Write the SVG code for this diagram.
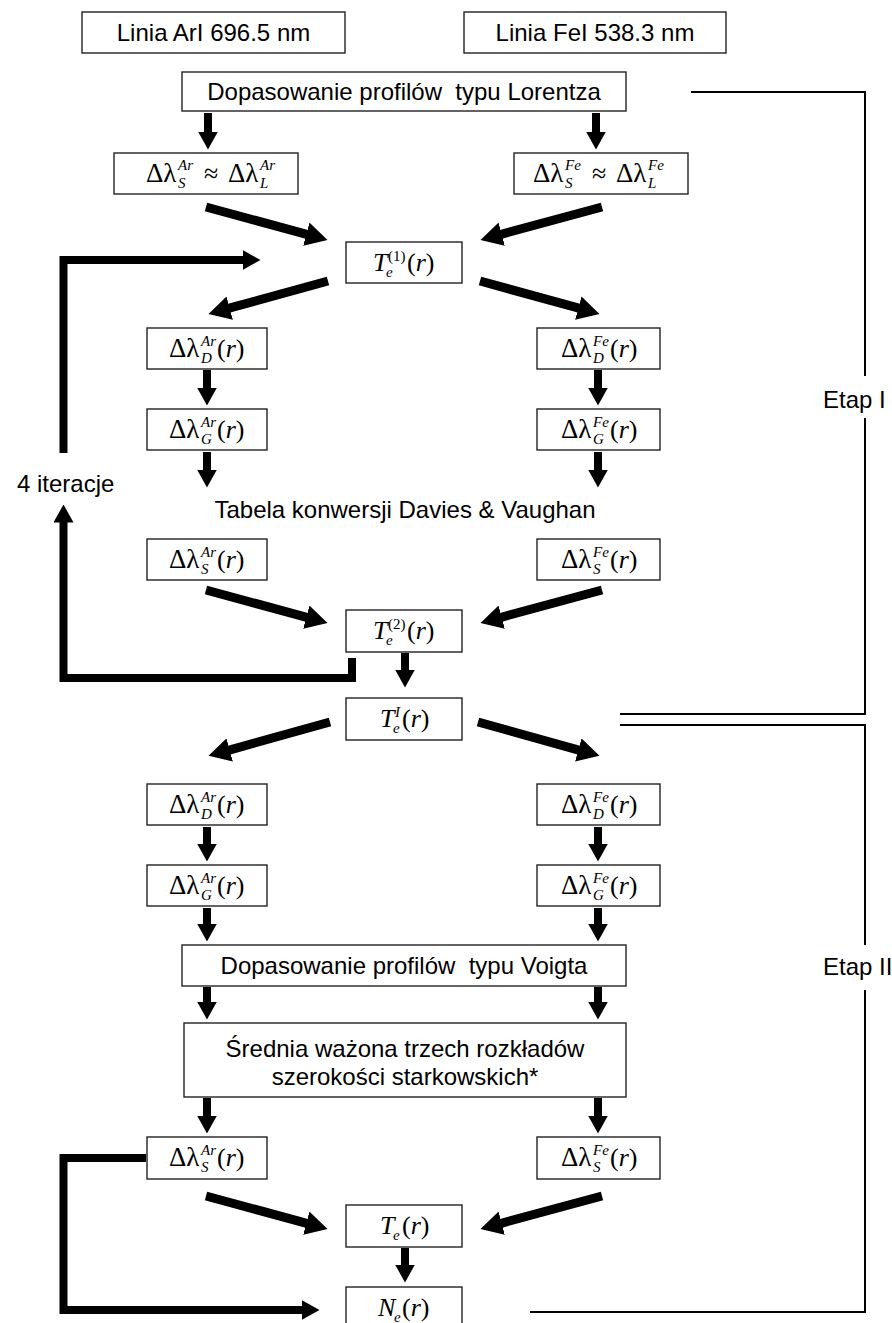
<svg xmlns="http://www.w3.org/2000/svg" width="892" height="1323" viewBox="0 0 892 1323">
<style>
.box{fill:#fff;stroke:#222;stroke-width:1.4}
.t{font-family:"Liberation Sans",Arial,sans-serif;font-size:24px;fill:#000}
.c{text-anchor:middle}
.m{font-family:"Liberation Serif","Times New Roman",serif;font-size:26px;fill:#000}
.g{font-family:"Liberation Serif","Times New Roman",serif;font-size:27px;fill:#000}
.s{font-family:"Liberation Serif","Times New Roman",serif;font-size:15px;font-style:italic;fill:#000}
.u{font-family:"Liberation Serif","Times New Roman",serif;font-size:15px;fill:#000}
.i{font-style:italic}
.ad{stroke:#000;stroke-width:8;fill:none;marker-end:url(#hd)}
.ag{stroke:#000;stroke-width:9;fill:none;marker-end:url(#hl)}
.al{stroke:#000;stroke-width:8;fill:none;stroke-linejoin:miter;marker-end:url(#hd)}
.br{stroke:#000;stroke-width:2;fill:none}
</style>
<defs>
<marker id="hd" viewBox="0 0 18 20" markerWidth="18" markerHeight="20" refX="0.5" refY="10" orient="auto" markerUnits="userSpaceOnUse"><path d="M0,0 L18,10 L0,20 z" fill="#000"/></marker>
<marker id="hl" viewBox="0 0 22 24" markerWidth="22" markerHeight="24" refX="0.5" refY="12" orient="auto" markerUnits="userSpaceOnUse"><path d="M0,0 L22,12 L0,24 z" fill="#000"/></marker>
</defs>
<rect width="892" height="1323" fill="#fff"/>

<g id="connectors">
<line class="ad" x1="208" y1="113" x2="208" y2="132"/>
<line class="ad" x1="596" y1="113" x2="596" y2="132"/>
<line class="ag" x1="206" y1="207" x2="306.8" y2="234.3"/>
<line class="ag" x1="602" y1="207" x2="501.2" y2="234.3"/>
<line class="ag" x1="328" y1="281" x2="229.2" y2="308.2"/>
<line class="ag" x1="480" y1="281" x2="578.8" y2="308.2"/>
<line class="ad" x1="207" y1="370" x2="207" y2="388"/>
<line class="ad" x1="598" y1="370" x2="598" y2="388"/>
<line class="ad" x1="207" y1="452" x2="207" y2="470"/>
<line class="ad" x1="598" y1="452" x2="598" y2="470"/>
<line class="ag" x1="206" y1="590" x2="306.8" y2="617.3"/>
<line class="ag" x1="602" y1="590" x2="501.2" y2="617.3"/>
<line class="ad" x1="405" y1="653" x2="405" y2="670"/>
<polyline class="al" points="352,658 352,678 63.5,678 63.5,522"/>
<polyline class="al" points="63.5,453 63.5,260 243,260"/>
<line class="ag" x1="330" y1="722" x2="229.2" y2="750.1"/>
<line class="ag" x1="478" y1="722" x2="578.8" y2="750.1"/>
<line class="ad" x1="207" y1="827" x2="207" y2="844"/>
<line class="ad" x1="598" y1="827" x2="598" y2="844"/>
<line class="ad" x1="207" y1="908" x2="207" y2="924"/>
<line class="ad" x1="598" y1="908" x2="598" y2="924"/>
<line class="ad" x1="207" y1="987" x2="207" y2="1002"/>
<line class="ad" x1="598" y1="987" x2="598" y2="1002"/>
<line class="ad" x1="207" y1="1098" x2="207" y2="1116"/>
<line class="ad" x1="598" y1="1098" x2="598" y2="1116"/>
<line class="ag" x1="206" y1="1196" x2="306.8" y2="1223.3"/>
<line class="ag" x1="602" y1="1196" x2="501.2" y2="1223.3"/>
<line class="ad" x1="405" y1="1248" x2="405" y2="1265"/>
<polyline class="al" points="146,1158 63.5,1158 63.5,1310 302,1310"/>
<path class="br" d="M691,92 H865 V376 M865,418 V714 H620"/>
<path class="br" d="M620,725 H865 V945 M865,990 V1312 H530"/>
</g>

<g id="n_linia_ar"><rect class="box" x="82" y="12" width="263" height="41"/><text class="t c" x="213.5" y="41">Linia ArI 696.5 nm</text></g>
<g id="n_linia_fe"><rect class="box" x="464" y="12" width="262" height="41"/><text class="t c" x="595" y="41">Linia FeI 538.3 nm</text></g>
<g id="n_lorentz"><rect class="box" x="182" y="72" width="444" height="39"/><text class="t c" x="404" y="100" xml:space="preserve">Dopasowanie profilów  typu Lorentza</text></g>

<g id="n_sl_ar"><rect class="box" x="114" y="153" width="184" height="41"/>
<text class="g" x="146" y="182">Δλ</text><text class="s" x="178" y="170">Ar</text><text class="s" x="178" y="188">S</text>
<text class="m" x="204" y="182">≈</text>
<text class="g" x="228" y="182">Δλ</text><text class="s" x="260" y="170">Ar</text><text class="s" x="260" y="188">L</text></g>
<g id="n_sl_fe"><rect class="box" x="514" y="153" width="174" height="41"/>
<text class="g" x="533" y="182">Δλ</text><text class="s" x="565" y="170">Fe</text><text class="s" x="565" y="188">S</text>
<text class="m" x="592" y="182">≈</text>
<text class="g" x="616" y="182">Δλ</text><text class="s" x="648" y="170">Fe</text><text class="s" x="648" y="188">L</text></g>

<g id="n_t1"><rect class="box" x="346" y="242" width="116" height="41"/>
<text class="m i" x="373" y="271">T</text><text class="u" x="388" y="261">(1)</text><text class="s" x="386" y="277">e</text><text class="m" x="407" y="271">(<tspan class="i">r</tspan>)</text></g>

<g id="n_d1_ar"><rect class="box" x="147" y="328" width="120" height="41"/>
<text class="g" x="169" y="357">Δλ</text><text class="s" x="201" y="346">Ar</text><text class="s" x="201" y="363">D</text><text class="m" x="217" y="357">(<tspan class="i">r</tspan>)</text></g>
<g id="n_d1_fe"><rect class="box" x="537" y="328" width="123" height="41"/>
<text class="g" x="561" y="357">Δλ</text><text class="s" x="593" y="346">Fe</text><text class="s" x="593" y="363">D</text><text class="m" x="610" y="357">(<tspan class="i">r</tspan>)</text></g>

<g id="n_g1_ar"><rect class="box" x="147" y="409" width="120" height="41"/>
<text class="g" x="169" y="438">Δλ</text><text class="s" x="201" y="427">Ar</text><text class="s" x="201" y="444">G</text><text class="m" x="217" y="438">(<tspan class="i">r</tspan>)</text></g>
<g id="n_g1_fe"><rect class="box" x="537" y="409" width="123" height="41"/>
<text class="g" x="561" y="438">Δλ</text><text class="s" x="593" y="427">Fe</text><text class="s" x="593" y="444">G</text><text class="m" x="610" y="438">(<tspan class="i">r</tspan>)</text></g>

<g id="n_iter"><text class="t" x="17" y="492">4 iteracje</text></g>
<g id="n_tabela"><text class="t c" x="405" y="518">Tabela konwersji Davies &amp; Vaughan</text></g>

<g id="n_s1_ar"><rect class="box" x="147" y="539" width="120" height="41"/>
<text class="g" x="169" y="568">Δλ</text><text class="s" x="201" y="557">Ar</text><text class="s" x="201" y="574">S</text><text class="m" x="217" y="568">(<tspan class="i">r</tspan>)</text></g>
<g id="n_s1_fe"><rect class="box" x="537" y="539" width="123" height="41"/>
<text class="g" x="561" y="568">Δλ</text><text class="s" x="593" y="557">Fe</text><text class="s" x="593" y="574">S</text><text class="m" x="610" y="568">(<tspan class="i">r</tspan>)</text></g>

<g id="n_t2"><rect class="box" x="346" y="610" width="116" height="42"/>
<text class="m i" x="373" y="639">T</text><text class="u" x="388" y="629">(2)</text><text class="s" x="386" y="645">e</text><text class="m" x="407" y="639">(<tspan class="i">r</tspan>)</text></g>

<g id="n_ti"><rect class="box" x="346" y="698" width="116" height="42"/>
<text class="m i" x="380" y="727">T</text><text class="s" x="395" y="717">I</text><text class="s" x="393" y="733">e</text><text class="m" x="402" y="727">(<tspan class="i">r</tspan>)</text></g>

<g id="n_d2_ar"><rect class="box" x="147" y="784" width="120" height="41"/>
<text class="g" x="169" y="813">Δλ</text><text class="s" x="201" y="802">Ar</text><text class="s" x="201" y="819">D</text><text class="m" x="217" y="813">(<tspan class="i">r</tspan>)</text></g>
<g id="n_d2_fe"><rect class="box" x="537" y="784" width="123" height="41"/>
<text class="g" x="561" y="813">Δλ</text><text class="s" x="593" y="802">Fe</text><text class="s" x="593" y="819">D</text><text class="m" x="610" y="813">(<tspan class="i">r</tspan>)</text></g>

<g id="n_g2_ar"><rect class="box" x="147" y="865" width="120" height="41"/>
<text class="g" x="169" y="894">Δλ</text><text class="s" x="201" y="883">Ar</text><text class="s" x="201" y="900">G</text><text class="m" x="217" y="894">(<tspan class="i">r</tspan>)</text></g>
<g id="n_g2_fe"><rect class="box" x="537" y="865" width="123" height="41"/>
<text class="g" x="561" y="894">Δλ</text><text class="s" x="593" y="883">Fe</text><text class="s" x="593" y="900">G</text><text class="m" x="610" y="894">(<tspan class="i">r</tspan>)</text></g>

<g id="n_voigt"><rect class="box" x="182" y="945" width="444" height="41"/><text class="t c" x="404" y="974" xml:space="preserve">Dopasowanie profilów  typu Voigta</text></g>
<g id="n_srednia"><rect class="box" x="184" y="1023" width="442" height="74"/><text class="t c" x="405" y="1057">Średnia ważona trzech rozkładów</text><text class="t c" x="405" y="1085">szerokości starkowskich*</text></g>

<g id="n_s2_ar"><rect class="box" x="147" y="1137" width="120" height="42"/>
<text class="g" x="169" y="1166">Δλ</text><text class="s" x="201" y="1155">Ar</text><text class="s" x="201" y="1172">S</text><text class="m" x="217" y="1166">(<tspan class="i">r</tspan>)</text></g>
<g id="n_s2_fe"><rect class="box" x="537" y="1137" width="123" height="42"/>
<text class="g" x="561" y="1166">Δλ</text><text class="s" x="593" y="1155">Fe</text><text class="s" x="593" y="1172">S</text><text class="m" x="610" y="1166">(<tspan class="i">r</tspan>)</text></g>

<g id="n_te"><rect class="box" x="346" y="1205" width="116" height="42"/>
<text class="m i" x="380" y="1234">T</text><text class="s" x="393" y="1240">e</text><text class="m" x="402" y="1234">(<tspan class="i">r</tspan>)</text></g>
<g id="n_ne"><rect class="box" x="346" y="1287" width="116" height="44"/>
<text class="m i" x="378" y="1316">N</text><text class="s" x="394" y="1322">e</text><text class="m" x="402" y="1316">(<tspan class="i">r</tspan>)</text></g>

<g id="n_etap1"><text class="t" x="823" y="408">Etap I</text></g>
<g id="n_etap2"><text class="t" x="823" y="975">Etap II</text></g>
</svg>
